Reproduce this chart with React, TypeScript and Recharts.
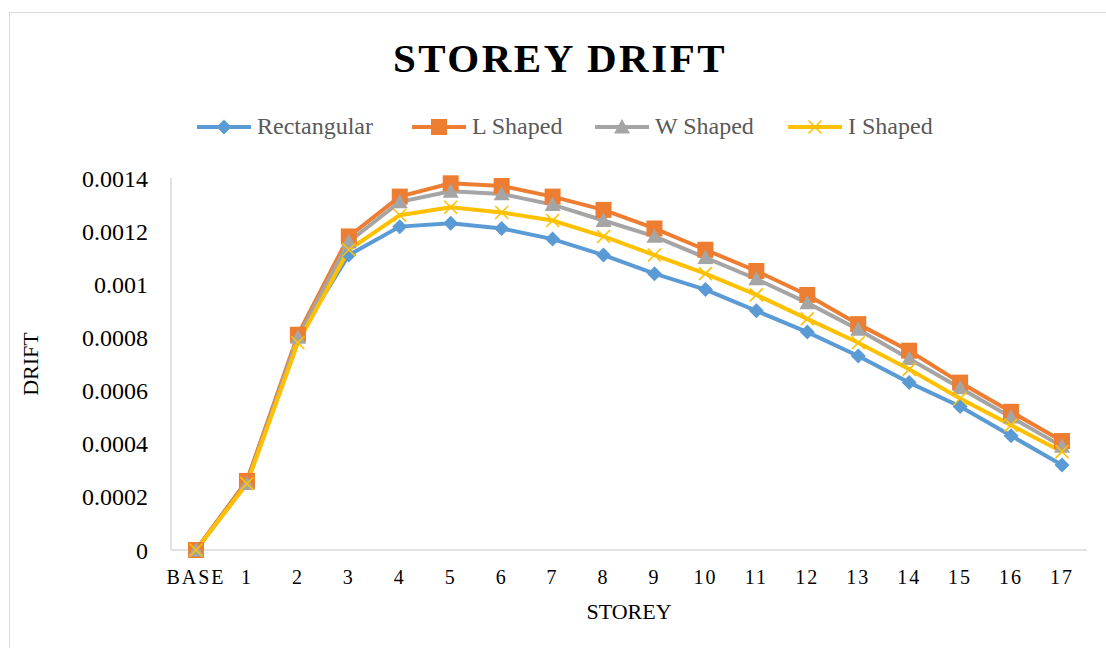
import React from 'react';
import { LineChart, Line, XAxis, YAxis, Legend } from 'recharts';

// storey labels along the x axis
const storeys = ['BASE', '1', '2', '3', '4', '5', '6', '7', '8', '9', '10', '11', '12', '13', '14', '15', '16', '17'];

// drift per storey
const rectangular = [0, 0.00026, 0.0008, 0.00111, 0.001217, 0.00123, 0.00121, 0.00117, 0.00111, 0.00104, 0.00098, 0.0009, 0.00082, 0.00073, 0.00063, 0.00054, 0.00043, 0.00032];
const lShaped = [0, 0.00026, 0.00081, 0.00118, 0.00133, 0.00138, 0.00137, 0.00133, 0.00128, 0.00121, 0.00113, 0.00105, 0.00096, 0.00085, 0.00075, 0.00063, 0.00052, 0.00041];
const wShaped = [0, 0.00025, 0.0008, 0.00116, 0.00131, 0.00135, 0.00134, 0.0013, 0.00124, 0.00118, 0.0011, 0.00102, 0.00093, 0.00083, 0.00072, 0.00061, 0.0005, 0.00039];
const iShaped = [0, 0.00025, 0.00078, 0.00113, 0.00126, 0.00129, 0.00127, 0.00124, 0.00118, 0.00111, 0.00104, 0.00096, 0.00087, 0.00078, 0.00068, 0.00057, 0.00047, 0.00037];

const yTicks = [0, 0.0002, 0.0004, 0.0006, 0.0008, 0.001, 0.0012, 0.0014];

const data = storeys.map((storey, i) => ({
  storey,
  rect: rectangular[i],
  l: lShaped[i],
  w: wShaped[i],
  iShape: iShaped[i],
}));

const BLUE = '#5B9BD5';
const ORANGE = '#ED7D31';
const GRAY = '#A5A5A5';
const YELLOW = '#FFC000';
const FONT = '"Liberation Serif", "Times New Roman", serif';

type Shape = 'diamond' | 'square' | 'triangle' | 'cross';

const marker = (shape: Shape, cx: number, cy: number, color: string, key?: string) => {
  if (shape === 'diamond') {
    const r = 7.5;
    return <path key={key} d={`M${cx},${cy - r}L${cx + r},${cy}L${cx},${cy + r}L${cx - r},${cy}Z`} fill={color} />;
  }
  if (shape === 'square') {
    const r = 8;
    return <rect key={key} x={cx - r} y={cy - r} width={r * 2} height={r * 2} fill={color} />;
  }
  if (shape === 'triangle') {
    const r = 8;
    return <path key={key} d={`M${cx},${cy - r}L${cx + r},${cy + r * 0.8}L${cx - r},${cy + r * 0.8}Z`} fill={color} />;
  }
  const r = 6.5;
  return (
    <path
      key={key}
      d={`M${cx - r},${cy - r}L${cx + r},${cy + r}M${cx + r},${cy - r}L${cx - r},${cy + r}`}
      stroke={color}
      strokeWidth={1.6}
      fill="none"
    />
  );
};

const dotFor = (shape: Shape, color: string) => (props: any) => {
  const { cx, cy, index } = props;
  if (cx == null || cy == null) return <g key={`${shape}-${index}`} />;
  return marker(shape, cx, cy, color, `${shape}-${index}`);
};

// legend entries; width is the slot each one takes in the row
const legendItems: { name: string; color: string; shape: Shape; width: number }[] = [
  { name: 'Rectangular', color: BLUE, shape: 'diamond', width: 215 },
  { name: 'L Shaped', color: ORANGE, shape: 'square', width: 183 },
  { name: 'W Shaped', color: GRAY, shape: 'triangle', width: 193 },
  { name: 'I Shaped', color: YELLOW, shape: 'cross', width: 160 },
];

const renderLegend = () => (
  <div style={{ display: 'flex', alignItems: 'center', whiteSpace: 'nowrap', fontFamily: FONT, fontSize: 24, color: '#595959' }}>
    {legendItems.map((item) => (
      <div key={item.name} style={{ display: 'flex', alignItems: 'center', width: item.width }}>
        <svg width={54} height={20} style={{ marginRight: 6 }}>
          <line x1={0} y1={10} x2={54} y2={10} stroke={item.color} strokeWidth={4} />
          {marker(item.shape, 27, 10, item.color)}
        </svg>
        <span>{item.name}</span>
      </div>
    ))}
  </div>
);

export default function App() {
  return (
    <div style={{ position: 'relative', width: 1106, height: 648, overflow: 'hidden', background: '#fff' }}>
      <style>{'body{margin:0;overflow:hidden}'}</style>
      <div
        style={{
          position: 'absolute',
          left: 9,
          top: 12,
          width: 1140,
          height: 680,
          border: '1px solid #d9d9d9',
        }}
      />
      <div
        style={{
          position: 'absolute',
          left: 0,
          width: 1120,
          top: 34,
          textAlign: 'center',
          fontFamily: FONT,
          fontWeight: 'bold',
          fontSize: 41,
          letterSpacing: 2.5,
          color: '#000',
        }}
      >
        STOREY DRIFT
      </div>
      <div style={{ position: 'absolute', left: 0, top: 0 }}>
        <LineChart width={1106} height={648} data={data} margin={{ top: 178, right: 19, left: 20, bottom: 18 }}>
          <XAxis
            dataKey="storey"
            height={80}
            padding={{ left: 25, right: 25 }}
            axisLine={{ stroke: '#d9d9d9', strokeWidth: 1.5 }}
            tickLine={false}
            tickSize={0}
            tickMargin={20}
            interval={0}
            tick={{ fill: '#000', fontSize: 20, fontFamily: FONT, letterSpacing: 2 }}
            label={{ value: 'STOREY', position: 'center', dy: 21, fill: '#000', fontSize: 22, fontFamily: FONT }}
          />
          <YAxis
            width={151}
            domain={[0, 0.0014]}
            ticks={yTicks}
            tickFormatter={(v: number) => String(v)}
            axisLine={{ stroke: '#d9d9d9', strokeWidth: 1.5 }}
            tickLine={false}
            tickSize={0}
            tickMargin={23}
            tick={{ fill: '#000', fontSize: 24, fontFamily: FONT }}
            label={{ value: 'DRIFT', angle: -90, position: 'center', dx: -65, fill: '#000', fontSize: 22, fontFamily: FONT }}
          />
          <Legend
            layout="horizontal"
            verticalAlign="middle"
            align="center"
            wrapperStyle={{ top: 113, left: 197, width: 'auto' }}
            content={renderLegend}
          />
          <Line dataKey="rect" name="Rectangular" stroke={BLUE} strokeWidth={4} dot={dotFor('diamond', BLUE)} activeDot={false} isAnimationActive={false} />
          <Line dataKey="l" name="L Shaped" stroke={ORANGE} strokeWidth={4} dot={dotFor('square', ORANGE)} activeDot={false} isAnimationActive={false} />
          <Line dataKey="w" name="W Shaped" stroke={GRAY} strokeWidth={4} dot={dotFor('triangle', GRAY)} activeDot={false} isAnimationActive={false} />
          <Line dataKey="iShape" name="I Shaped" stroke={YELLOW} strokeWidth={4} dot={dotFor('cross', YELLOW)} activeDot={false} isAnimationActive={false} />
        </LineChart>
      </div>
    </div>
  );
}
